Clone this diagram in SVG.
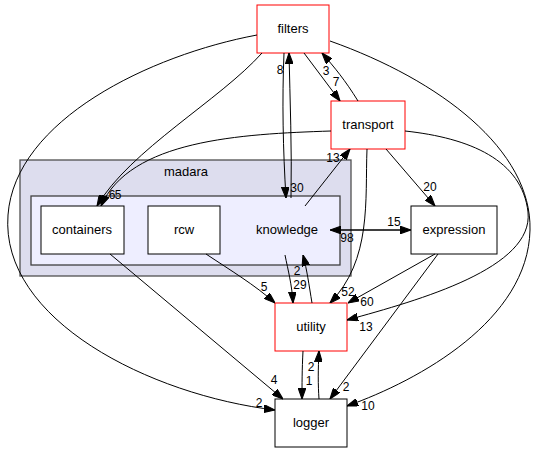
<svg xmlns="http://www.w3.org/2000/svg" width="536" height="452" viewBox="0 0 536 452">
<style>
text{font-family:"Liberation Sans",Arial,Helvetica,sans-serif;fill:#000}
.n{font-size:13px;text-anchor:middle}
.l{font-size:12px;text-anchor:middle}
.box{fill:#fff;stroke:#000;stroke-width:1}
.red{fill:#fff;stroke:#ff0000;stroke-width:1}
.e{fill:none;stroke:#000;stroke-width:1;marker-end:url(#a)}
</style>
<defs>
<marker id="a" viewBox="0 0 10 7" refX="10" refY="3.5" markerWidth="11" markerHeight="8" orient="auto" markerUnits="userSpaceOnUse">
<path d="M0,0 L10,3.5 L0,7 z" fill="#000" stroke="#000"/>
</marker>
</defs>
<rect width="536" height="452" fill="#fff"/>
<g id="cluster_madara">
<rect x="20" y="160" width="331" height="116" fill="#ddddee" stroke="#505050" stroke-width="1.3"/>
<text class="n" x="186" y="176">madara</text>
</g>
<g id="cluster_knowledge">
<rect x="31" y="196" width="309" height="69" fill="#eeeeff" stroke="#404040" stroke-width="1.3"/>
<text class="n" x="287" y="234">knowledge</text>
</g>
<g id="node_containers">
<rect class="box" x="41" y="206" width="83" height="48"/>
<text class="n" x="82" y="234">containers</text>
</g>
<g id="node_rcw">
<rect class="box" x="148" y="206" width="72" height="48"/>
<text class="n" x="184" y="234">rcw</text>
</g>
<g id="node_filters">
<rect class="red" x="257" y="5" width="72" height="48"/>
<text class="n" x="293" y="33">filters</text>
</g>
<g id="node_transport">
<rect class="red" x="331" y="101" width="74" height="48"/>
<text class="n" x="368" y="129">transport</text>
</g>
<g id="node_expression">
<rect class="box" x="411" y="206" width="86" height="48"/>
<text class="n" x="454" y="234">expression</text>
</g>
<g id="node_utility">
<rect class="red" x="275" y="303" width="72" height="48"/>
<text class="n" x="311" y="331">utility</text>
</g>
<g id="node_logger">
<rect class="box" x="275" y="399" width="72" height="48"/>
<text class="n" x="311" y="427">logger</text>
</g>
<g id="edges">
<path class="e" d="M262,53 C220,100 130,150 97,206"/>
<text class="l" x="112" y="199">6</text>
<path class="e" d="M331,131 C240,134 130,140 101,206"/>
<text class="l" x="118" y="199">5</text>
<path class="e" d="M284,53 C282,100 283,150 286,198"/>
<text class="l" x="297" y="192">30</text>
<path class="e" d="M291,198 C292,150 290,100 289,53"/>
<text class="l" x="280" y="74">8</text>
<path class="e" d="M304,53 L340,101"/>
<text class="l" x="336" y="86">7</text>
<path class="e" d="M358,101 C345,80 335,68 322,53"/>
<text class="l" x="326" y="75">3</text>
<path class="e" d="M330,41 C440,80 532,150 530,230 C528,320 420,380 347,406"/>
<text class="l" x="368" y="410">10</text>
<path class="e" d="M405,131 C470,138 522,160 528,212 C534,268 420,300 347,320"/>
<text class="l" x="366" y="331">13</text>
<path class="e" d="M257,35 C150,55 15,120 8,215 C0,320 150,395 275,410"/>
<text class="l" x="259" y="407">2</text>
<path class="e" d="M305,206 L350,149"/>
<text class="l" x="333" y="162">13</text>
<path class="e" d="M367,149 C365,200 372,260 330,303"/>
<text class="l" x="348" y="296">52</text>
<path class="e" d="M386,149 L435,206"/>
<text class="l" x="430" y="191">20</text>
<path class="e" d="M340,230 L411,230"/>
<text class="l" x="394" y="226">15</text>
<path class="e" d="M400,230 L330,230"/>
<text class="l" x="347" y="242">98</text>
<path class="e" d="M285,255 C288,270 292,285 293,303"/>
<text class="l" x="300" y="289">29</text>
<path class="e" d="M312,303 C309,285 307,270 303,255"/>
<text class="l" x="297" y="275">2</text>
<path class="e" d="M206,254 C230,270 255,285 275,303"/>
<text class="l" x="264" y="291">5</text>
<path class="e" d="M435,254 L348,303"/>
<text class="l" x="367" y="306">60</text>
<path class="e" d="M438,254 L330,399"/>
<text class="l" x="346" y="391">2</text>
<path class="e" d="M110,254 L283,399"/>
<text class="l" x="274" y="384">4</text>
<path class="e" d="M303,351 C302,370 302,385 302,399"/>
<text class="l" x="309" y="385">1</text>
<path class="e" d="M319,399 C318,385 318,370 319,351"/>
<text class="l" x="311" y="371">2</text>
</g>
</svg>
